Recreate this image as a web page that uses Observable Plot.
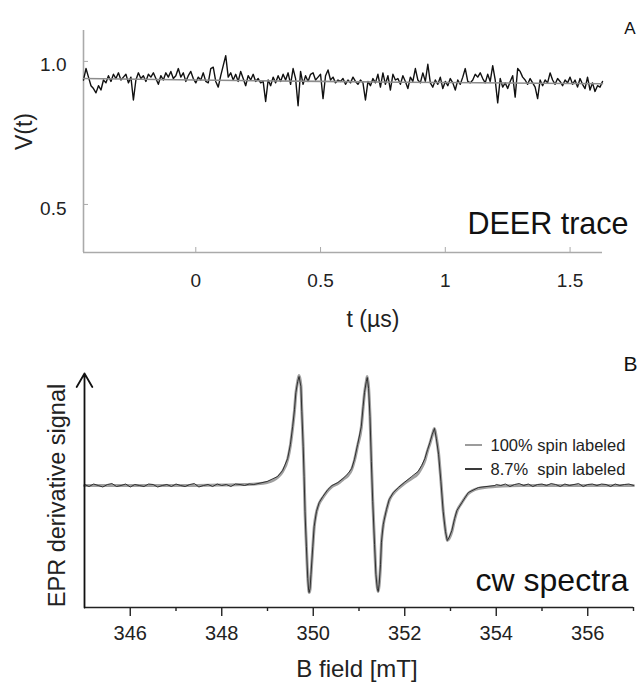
<!DOCTYPE html>
<html>
<head>
<meta charset="utf-8">
<script src="https://cdn.jsdelivr.net/npm/d3@7"></script>
<script src="https://cdn.jsdelivr.net/npm/@observablehq/plot@0.6"></script>
<style>
  html, body { margin: 0; padding: 0; background: #fff; }
  #chart { width: 639px; height: 682px; overflow: hidden; }
  #chart svg { display: block; }
</style>
</head>
<body>
<div id="chart"></div>
<script>
// ---------- Panel A: DEER trace ----------
const deerT0 = -0.45;   // first sample time (µs)
const deerDt = 0.01;    // sampling interval (µs)
const deerV = [
  0.935, 0.975, 0.945, 0.915, 0.905, 0.890, 0.915, 0.900, 0.935, 0.925,
  0.950, 0.930, 0.955, 0.940, 0.960, 0.935, 0.945, 0.955, 0.925, 0.945,
  0.865, 0.935, 0.960, 0.940, 0.950, 0.930, 0.955, 0.945, 0.960, 0.940,
  0.920, 0.950, 0.935, 0.960, 0.945, 0.965, 0.940, 0.950, 0.975, 0.945,
  0.960, 0.930, 0.950, 0.965, 0.940, 0.925, 0.945, 0.935, 0.960, 0.930,
  0.925, 0.975, 0.980, 0.930, 0.910, 0.950, 0.985, 1.020, 0.945, 0.960,
  0.935, 0.955, 0.930, 0.965, 0.940, 0.915, 0.950, 0.935, 0.955, 0.930,
  0.940, 0.925, 0.930, 0.860, 0.935, 0.915, 0.945, 0.925, 0.950, 0.930,
  0.955, 0.935, 0.960, 0.920, 0.975, 0.940, 0.845, 0.965, 0.920, 0.950,
  0.930, 0.955, 0.960, 0.935, 0.945, 0.955, 0.870, 0.950, 0.970, 0.935,
  0.945, 0.925, 0.935, 0.930, 0.940, 0.920, 0.935, 0.925, 0.945, 0.930,
  0.920, 0.935, 0.925, 0.865, 0.930, 0.915, 0.940, 0.925, 0.955, 0.910,
  0.960, 0.920, 0.950, 0.900, 0.955, 0.935, 0.940, 0.920, 0.950, 0.930,
  0.905, 0.945, 0.930, 0.975, 0.935, 0.925, 0.960, 0.930, 0.990, 0.925,
  0.910, 0.935, 0.920, 0.945, 0.905, 0.930, 0.915, 0.940, 0.925, 0.900,
  0.935, 0.920, 0.945, 0.975, 0.930, 0.925, 0.935, 0.955, 0.945, 0.960,
  0.940, 0.925, 0.955, 0.930, 0.985, 0.935, 0.855, 0.940, 0.910, 0.925,
  0.905, 0.930, 0.950, 0.875, 0.975, 0.965, 0.945, 0.935, 0.920, 0.940,
  0.925, 0.910, 0.870, 0.935, 0.915, 0.935, 0.925, 0.960, 0.935, 0.920,
  0.940, 0.930, 0.915, 0.935, 0.925, 0.945, 0.920, 0.935, 0.910, 0.940,
  0.920, 0.905, 0.945, 0.900, 0.925, 0.895, 0.915, 0.910, 0.930
];
const fitT = [-0.45, 0.0, 0.5, 1.0, 1.63];
const fitV = [0.940, 0.935, 0.930, 0.926, 0.922];
const tTicks = [0, 0.5, 1, 1.5];
const tTickLabels = ["0", "0.5", "1", "1.5"];
const vTicks = [0.5, 1.0];
const vTickLabels = ["0.5", "1.0"];
const tDomain = [-0.45, 1.63];
const vDomain = [0.332, 1.108];

// ---------- Panel B: cw EPR spectra ----------
const greyField = [
  345.00, 346.00, 347.00, 348.00, 348.50, 348.74, 348.99, 349.22, 349.33, 349.44,
  349.50, 349.55, 349.59, 349.62, 349.66, 349.69, 349.73, 349.75, 349.78, 349.80,
  349.82, 349.85, 349.88, 349.90, 349.91, 349.93, 349.95, 349.99, 350.02, 350.07,
  350.13, 350.21, 350.32, 350.41, 350.54, 350.65, 350.76, 350.84, 350.90, 350.97,
  351.05, 351.09, 351.12, 351.16, 351.18, 351.21, 351.24, 351.27, 351.30, 351.34,
  351.37, 351.40, 351.42, 351.44, 351.47, 351.49, 351.53, 351.60, 351.66, 351.75,
  351.86, 351.99, 352.15, 352.29, 352.37, 352.44, 352.50, 352.55, 352.60, 352.65,
  352.69, 352.74, 352.79, 352.84, 352.89, 352.93, 352.97, 353.03, 353.09, 353.14,
  353.25, 353.39, 353.61, 353.97, 354.56, 355.50, 357.00
];
const greySignal = [
  0, 0, 0, 0.5, 1, 1.5, 3, 8, 14, 26,
  40, 58, 75, 92, 104, 110, 100, 75, 40, 10,
  -25, -60, -92, -104, -107, -104, -90, -62, -42, -27,
  -18, -12, -5, -1, 2, 6, 10, 16, 25, 40,
  58, 78, 92, 104, 109, 98, 70, 25, -15, -58,
  -88, -102, -106, -100, -80, -58, -40, -25, -15, -8,
  -3, 2, 7, 12, 18, 25, 35, 42, 50, 57,
  48, 32, 5, -25, -45, -55, -53, -46, -34, -26,
  -17, -8, -3, -1, 0, 0, 0
];
const blackField = [
  345.0, 345.1, 345.2, 345.3, 345.4, 345.5, 345.6, 345.7, 345.8, 345.9,
  346.0, 346.1, 346.2, 346.3, 346.4, 346.5, 346.6, 346.7, 346.8, 346.9,
  347.0, 347.1, 347.2, 347.3, 347.4, 347.5, 347.6, 347.7, 347.8, 347.9,
  348.0, 348.1, 348.2, 348.3, 348.4, 348.5, 348.6, 348.7,
  348.99, 349.22, 349.33, 349.44,
  349.50, 349.55, 349.59, 349.62, 349.66, 349.69, 349.73, 349.75, 349.78, 349.80,
  349.82, 349.85, 349.88, 349.90, 349.91, 349.93, 349.95, 349.99, 350.02, 350.07,
  350.13, 350.21, 350.32, 350.41, 350.54, 350.65, 350.76, 350.84, 350.90, 350.97,
  351.05, 351.09, 351.12, 351.16, 351.18, 351.21, 351.24, 351.27, 351.30, 351.34,
  351.37, 351.40, 351.42, 351.44, 351.47, 351.49, 351.53, 351.60, 351.66, 351.75,
  351.86, 351.99, 352.15, 352.29, 352.37, 352.44, 352.50, 352.55, 352.60, 352.65,
  352.69, 352.74, 352.79, 352.84, 352.89, 352.93, 352.97, 353.03, 353.09, 353.14,
  353.25, 353.39, 353.61, 353.97,
  354.0, 354.1, 354.2, 354.3, 354.4, 354.5, 354.6, 354.7, 354.8, 354.9,
  355.0, 355.1, 355.2, 355.3, 355.4, 355.5, 355.6, 355.7, 355.8, 355.9,
  356.0, 356.1, 356.2, 356.3, 356.4, 356.5, 356.6, 356.7, 356.8, 356.9,
  357.0
];
const blackSignal = [
  1, -1, 1.5, 0, -1.5, 1, 2, -1, 0, 1.5,
  -1.5, 1, 0, -1, 1.5, 1, -1.5, 0, 1, -1,
  1.5, 0, -1, 1, 2, -1.5, 0, 1, -1, 1.5,
  0, 1, -1, 1.5, 1, 0, 1.5, 1,
  4, 9, 15, 27,
  41, 59, 76, 93, 104, 109, 99, 74, 39, 9,
  -26, -61, -93, -105, -107, -103, -89, -61, -41, -26,
  -17, -11, -4, 0, 3, 7, 12, 17, 26, 41,
  59, 79, 93, 104, 108, 97, 69, 24, -16, -59,
  -89, -103, -106, -99, -79, -57, -39, -24, -14, -7,
  -2, 3, 9, 14, 20, 27, 36, 43, 51, 57,
  47, 31, 4, -26, -46, -55, -52, -45, -33, -25,
  -17, -7, -2, 0,
  1, 0, 1.5, -1, 1, 2, 0, 1.5, -1, 1,
  1.5, 0, 2, 1, -1, 1.5, 0, 1, 2, -1,
  1, 1.5, 0, 1.5, 1, -1, 1.5, 0, 1, 1.5,
  0
];
const bMajorTicks = [346, 348, 350, 352, 354, 356];
const bMajorLabels = ["346", "348", "350", "352", "354", "356"];
const bMinorTicks = [347, 349, 351, 353, 355, 357];
const fieldDomain = [345, 357];
const signalDomain = [-122, 112];
const legendLabels = ["100% spin labeled", "8.7%\u00a0 spin labeled"];
const legendColors = ["#9c9c9c", "#3a3a3a"];

const FONT = "'Liberation Sans', Arial, Helvetica, sans-serif";

// ---------- build panel A ----------
const deerData = deerV.map((v, i) => ({t: deerT0 + i * deerDt, v}));
const fitData = fitT.map((t, i) => ({t, v: fitV[i]}));

const plotA = Plot.plot({
  width: 639,
  height: 330,
  marginLeft: 83,
  marginRight: 37,
  marginTop: 30,
  marginBottom: 78,
  x: {domain: tDomain, axis: null},
  y: {domain: vDomain, axis: null},
  style: {fontFamily: FONT, fontSize: "19px", color: "#222", background: "#fff", overflow: "visible"},
  marks: [
    Plot.ruleX([tDomain[0]], {stroke: "#aaa", strokeWidth: 1.6}),
    Plot.ruleY([vDomain[0]], {stroke: "#aaa", strokeWidth: 1.6}),
    Plot.tickX(tTicks, {x: d => d, stroke: "#aaa", strokeWidth: 1, insetTop: 217}),
    Plot.tickY(vTicks, {y: d => d, stroke: "#aaa", strokeWidth: 1, insetRight: 514}),
    Plot.axisX({ticks: tTicks, tickSize: 0, tickPadding: 21, label: null, fontSize: 19,
      tickFormat: d => tTickLabels[tTicks.indexOf(d)], color: "#222"}),
    Plot.axisY({ticks: vTicks, tickSize: 0, tickPadding: 17, label: null, fontSize: 19, dy: 4,
      tickFormat: d => vTickLabels[vTicks.indexOf(d)], color: "#222"}),
    Plot.line(deerData, {x: "t", y: "v", stroke: "#111", strokeWidth: 1.4, strokeLinejoin: "round"}),
    Plot.line(fitData, {x: "t", y: "v", stroke: "#8c8c8c", strokeWidth: 1.6, curve: "monotone-x"}),
    Plot.text(["DEER trace"], {frameAnchor: "bottom-right", textAnchor: "end", lineAnchor: "bottom",
      dx: 26, dy: -19, fontSize: 30.5, fill: "#111"}),
    Plot.text(["A"], {frameAnchor: "top-right", textAnchor: "end", lineAnchor: "bottom",
      dx: 33, dy: 3, fontSize: 17, fill: "#111"}),
    Plot.text(["V(t)"], {frameAnchor: "left", rotate: -90, textAnchor: "middle", lineAnchor: "middle",
      dx: -59, dy: -10, fontSize: 23, fill: "#222"}),
    Plot.text(["t (µs)"], {frameAnchor: "bottom", textAnchor: "middle", lineAnchor: "middle",
      dx: 30, dy: 67, fontSize: 23, fill: "#222"})
  ]
});

// ---------- build panel B ----------
const greyData = greyField.map((b, i) => ({b, s: greySignal[i]}));
const blackData = blackField.map((b, i) => ({b, s: blackSignal[i]}));

function legendSwatches(index, scales, values, dims) {
  const g = d3.create("svg:g");
  const xr = dims.width - dims.marginRight;
  const yt = dims.marginTop;
  legendColors.forEach((c, i) => {
    g.append("line")
      .attr("x1", xr - 168).attr("x2", xr - 151)
      .attr("y1", yt + 72 + 24 * i).attr("y2", yt + 72 + 24 * i)
      .attr("stroke", c).attr("stroke-width", 2);
  });
  return g.node();
}

const plotB = Plot.plot({
  width: 639,
  height: 352,
  marginLeft: 84,
  marginRight: 6,
  marginTop: 43,
  marginBottom: 75,
  x: {domain: fieldDomain, axis: null},
  y: {domain: signalDomain, axis: null},
  style: {fontFamily: FONT, fontSize: "20px", color: "#222", background: "#fff", overflow: "visible"},
  marks: [
    Plot.line(greyData, {x: "b", y: "s", stroke: "#a0a0a0", strokeWidth: 3, curve: "monotone-x"}),
    Plot.line(blackData, {x: "b", y: "s", stroke: "#222", strokeWidth: 0.9}),
    Plot.ruleY([signalDomain[0]], {stroke: "#222", strokeWidth: 1.6}),
    Plot.arrow([0], {x1: fieldDomain[0], y1: signalDomain[0], x2: fieldDomain[0], y2: signalDomain[1],
      stroke: "#111", strokeWidth: 1.8, headAngle: 60, headLength: 13}),
    Plot.axisX({ticks: bMajorTicks, tickSize: 9, tickPadding: 9, label: null, fontSize: 20,
      tickFormat: d => bMajorLabels[bMajorTicks.indexOf(d)], color: "#222", strokeWidth: 1.4}),
    Plot.axisX({ticks: bMinorTicks, tickSize: 4, label: null, tickFormat: () => "", color: "#222", strokeWidth: 1.4}),
    ...legendLabels.map((lab, i) => Plot.text([lab], {frameAnchor: "top-right", textAnchor: "start",
      lineAnchor: "middle", dx: -143, dy: 72 + 24 * i, fontSize: 16.5, fill: "#222"})),
    legendSwatches,
    Plot.text(["cw spectra"], {frameAnchor: "bottom-right", textAnchor: "end", lineAnchor: "bottom",
      dx: -5, dy: -17, fontSize: 32, fill: "#111"}),
    Plot.text(["B"], {frameAnchor: "top-right", textAnchor: "end", lineAnchor: "bottom",
      dx: 4, dy: -3, fontSize: 21, fill: "#111"}),
    Plot.text(["EPR derivative signal"], {frameAnchor: "left", rotate: -90, textAnchor: "middle", lineAnchor: "middle",
      dx: -27, dy: 5, fontSize: 23.5, fill: "#222"}),
    Plot.text(["B field [mT]"], {frameAnchor: "bottom", textAnchor: "middle", lineAnchor: "middle",
      dx: -2, dy: 62, fontSize: 24, fill: "#222"})
  ]
});

const chart = document.getElementById("chart");
chart.appendChild(plotA);
chart.appendChild(plotB);
</script>
</body>
</html>
